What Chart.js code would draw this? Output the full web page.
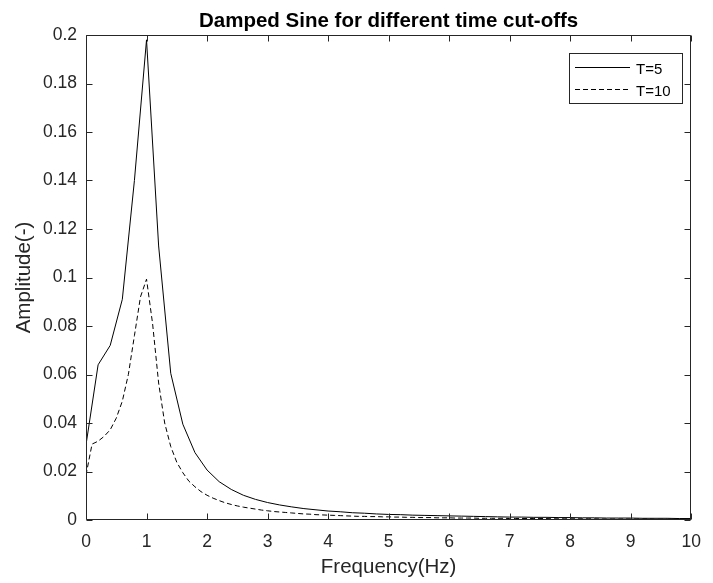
<!DOCTYPE html>
<html>
<head>
<meta charset="utf-8">
<title>Damped Sine for different time cut-offs</title>
<script src="https://cdn.jsdelivr.net/npm/chart.js@4.4.0/dist/chart.umd.min.js"></script>
<style>
  html, body { margin: 0; padding: 0; background: #fff; }
  #wrap { width: 713px; height: 583px; }
</style>
</head>
<body>
<div id="wrap"><canvas id="chart" width="713" height="583"></canvas></div>
<script>
// ── Data ─────────────────────────────────────────────────────

const freqT5 = [
  0, 0.2, 0.4, 0.6, 0.8, 1.0, 1.2, 1.4, 1.6, 1.8,
  2.0, 2.2, 2.4, 2.6, 2.8, 3.0, 3.2, 3.4, 3.6, 3.8,
  4.0, 4.2, 4.4, 4.6, 4.8, 5.0, 5.2, 5.4, 5.6, 5.8,
  6.0, 6.2, 6.4, 6.6, 6.8, 7.0, 7.2, 7.4, 7.6, 7.8,
  8.0, 8.2, 8.4, 8.6, 8.8, 9.0, 9.2, 9.4, 9.6, 9.8, 10.0,
];
const ampT5 = [
  0.031, 0.064, 0.072, 0.091, 0.140, 0.198, 0.113, 0.0605, 0.0395, 0.0278,
  0.0206, 0.0158, 0.0126, 0.0102, 0.0085, 0.0072, 0.0062, 0.0054, 0.0047, 0.0042,
  0.0037, 0.0034, 0.0030, 0.0028, 0.0025, 0.0023, 0.0022, 0.0020, 0.0019, 0.0018,
  0.0017, 0.0016, 0.0015, 0.0014, 0.0013, 0.0012, 0.0012, 0.0011, 0.0011, 0.0010,
  0.0010, 0.0009, 0.0009, 0.0008, 0.0008, 0.0008, 0.0007, 0.0007, 0.0007, 0.0006, 0.0006,
];

const freqT10 = [
  0, 0.1, 0.2, 0.3, 0.4, 0.5, 0.6, 0.7, 0.8, 0.9,
  1.0, 1.1, 1.2, 1.3, 1.4, 1.5, 1.6, 1.7, 1.8, 1.9,
  2.0, 2.1, 2.2, 2.3, 2.4, 2.5, 2.6, 2.7, 2.8, 2.9,
  3.0, 3.1, 3.2, 3.3, 3.4, 3.5, 3.6, 3.7, 3.8, 3.9,
  4.0, 4.1, 4.2, 4.3, 4.4, 4.5, 4.6, 4.7, 4.8, 4.9,
  5.0, 5.1, 5.2, 5.3, 5.4, 5.5, 5.6, 5.7, 5.8, 5.9,
  6.0, 6.1, 6.2, 6.3, 6.4, 6.5, 6.6, 6.7, 6.8, 6.9,
  7.0, 7.1, 7.2, 7.3, 7.4, 7.5, 7.6, 7.7, 7.8, 7.9,
  8.0, 8.1, 8.2, 8.3, 8.4, 8.5, 8.6, 8.7, 8.8, 8.9,
  9.0, 9.1, 9.2, 9.3, 9.4, 9.5, 9.6, 9.7, 9.8, 9.9, 10.0,
];
const ampT10 = [
  0.0185, 0.0313, 0.0325, 0.0345, 0.0372, 0.0420, 0.0490, 0.0600, 0.0760, 0.0920,
  0.0993, 0.0810, 0.0565, 0.0400, 0.0303, 0.0238, 0.0195, 0.0160, 0.0137, 0.0117,
  0.0102, 0.0090, 0.0080, 0.0071, 0.0064, 0.0058, 0.0053, 0.0049, 0.0045, 0.0041,
  0.0038, 0.0035, 0.0033, 0.0031, 0.0029, 0.0027, 0.0025, 0.0024, 0.0022, 0.0021,
  0.0020, 0.0019, 0.0018, 0.0017, 0.0016, 0.0015, 0.0015, 0.0014, 0.0014, 0.0013,
  0.0013, 0.0012, 0.0012, 0.0011, 0.0011, 0.0010, 0.0010, 0.0010, 0.0009, 0.0009,
  0.0009, 0.0008, 0.0008, 0.0008, 0.0008, 0.0007, 0.0007, 0.0007, 0.0007, 0.0007,
  0.0006, 0.0006, 0.0006, 0.0006, 0.0006, 0.0006, 0.0006, 0.0005, 0.0005, 0.0005,
  0.0005, 0.0005, 0.0005, 0.0005, 0.0005, 0.0004, 0.0004, 0.0004, 0.0004, 0.0004,
  0.0004, 0.0004, 0.0004, 0.0004, 0.0003, 0.0003, 0.0003, 0.0003, 0.0003, 0.0003, 0.0003,
];

const xTicks = [0, 1, 2, 3, 4, 5, 6, 7, 8, 9, 10];
const xTickLabels = ["0", "1", "2", "3", "4", "5", "6", "7", "8", "9", "10"];
const yTicks = [0, 0.02, 0.04, 0.06, 0.08, 0.1, 0.12, 0.14, 0.16, 0.18, 0.2];
const yTickLabels = ["0", "0.02", "0.04", "0.06", "0.08", "0.1", "0.12", "0.14", "0.16", "0.18", "0.2"];

// ── Style ────────────────────────────────────────────────────

const FONT = "'Liberation Sans', Arial, Helvetica, sans-serif";
const AXIS_COLOR = "#262626";

Chart.defaults.font.family = FONT;
Chart.defaults.color = AXIS_COLOR;

// MATLAB-like box with inward ticks on all four sides, plus the legend box
const boxAxes = {
  id: "boxAxes",
  afterDatasetsDraw(chart) {
    const { ctx, chartArea: a, scales: { x, y } } = chart;
    const L = Math.round(a.left) + 0.5;
    const R = Math.round(a.right) - 0.5;
    const T = Math.round(a.top) + 0.5;
    const B = Math.round(a.bottom) - 0.5;
    const len = 6;
    ctx.save();
    ctx.strokeStyle = AXIS_COLOR;
    ctx.lineWidth = 1;
    ctx.beginPath();
    ctx.rect(L, T, R - L, B - T);
    xTicks.forEach((v) => {
      const px = Math.round(x.getPixelForValue(v)) + 0.5;
      ctx.moveTo(px, B); ctx.lineTo(px, B - len);
      ctx.moveTo(px, T); ctx.lineTo(px, T + len);
    });
    yTicks.forEach((v) => {
      const py = Math.round(y.getPixelForValue(v)) + 0.5;
      ctx.moveTo(L, py); ctx.lineTo(L + len, py);
      ctx.moveTo(R, py); ctx.lineTo(R - len, py);
    });
    ctx.stroke();
    ctx.restore();
  },
  afterDraw(chart) {
    const { ctx, chartArea: a } = chart;
    const boxL = 569;
    const boxR = 682;
    const boxT = a.top + 18;
    const rowH = 22;
    const n = chart.data.datasets.length;
    const boxB = boxT + 14 + rowH * (n - 1) + 14;
    ctx.save();
    ctx.fillStyle = "#fff";
    ctx.fillRect(boxL, boxT, boxR - boxL, boxB - boxT);
    ctx.strokeStyle = AXIS_COLOR;
    ctx.lineWidth = 1;
    ctx.strokeRect(boxL + 0.5, Math.round(boxT) + 0.5, boxR - boxL, Math.round(boxB - boxT));
    ctx.font = "15px " + FONT;
    ctx.textBaseline = "middle";
    ctx.textAlign = "left";
    chart.data.datasets.forEach((ds, i) => {
      const cy = Math.round(boxT + 14 + i * rowH) + 0.5;
      ctx.strokeStyle = ds.borderColor;
      ctx.lineWidth = ds.borderWidth;
      ctx.setLineDash(ds.borderDash || []);
      ctx.beginPath();
      ctx.moveTo(boxL + 6, cy);
      ctx.lineTo(boxL + 61, cy);
      ctx.stroke();
      ctx.setLineDash([]);
      ctx.fillStyle = "#000";
      ctx.fillText(ds.label, boxL + 67, cy + 2);
    });
    ctx.restore();
  },
};

new Chart(document.getElementById("chart"), {
  type: "line",
  data: {
    datasets: [
      {
        label: "T=5",
        data: freqT5.map((f, i) => ({ x: f, y: ampT5[i] })),
        borderColor: "#000",
        borderWidth: 1,
        pointRadius: 0,
        fill: false,
        tension: 0,
      },
      {
        label: "T=10",
        data: freqT10.map((f, i) => ({ x: f, y: ampT10[i] })),
        borderColor: "#000",
        borderWidth: 1,
        borderDash: [5, 3],
        pointRadius: 0,
        fill: false,
        tension: 0,
      },
    ],
  },
  options: {
    responsive: false,
    animation: false,
    layout: { padding: { left: 0, right: 16, top: 0, bottom: 0 } },
    plugins: {
      legend: { display: false },
      tooltip: { enabled: false },
      title: {
        display: true,
        text: "Damped Sine for different time cut-offs",
        fullSize: false,
        color: "#000",
        font: { family: FONT, size: 20.5, weight: "bold", lineHeight: 1.2 },
        padding: { top: 9, bottom: 1.4 },
      },
    },
    scales: {
      x: {
        type: "linear",
        min: 0,
        max: 10,
        afterFit: (s) => { s.height = 63; },
        afterBuildTicks: (s) => { s.ticks = xTicks.map((v) => ({ value: v })); },
        ticks: {
          callback: (v, i) => xTickLabels[i],
          color: AXIS_COLOR,
          font: { size: 17.5 },
          padding: 12,
          maxRotation: 0,
          autoSkip: false,
        },
        grid: { display: false, drawTicks: false },
        border: { display: false },
        title: {
          display: true,
          text: "Frequency(Hz)",
          color: AXIS_COLOR,
          font: { size: 20.5 },
          padding: { top: 0, bottom: 3 },
        },
      },
      y: {
        type: "linear",
        min: 0,
        max: 0.2,
        afterFit: (s) => { s.width = 86; },
        afterBuildTicks: (s) => { s.ticks = yTicks.map((v) => ({ value: v })); },
        ticks: {
          callback: (v, i) => yTickLabels[i],
          color: AXIS_COLOR,
          font: { size: 17.5 },
          padding: 9,
          autoSkip: false,
        },
        grid: { display: false, drawTicks: false },
        border: { display: false },
        title: {
          display: true,
          text: "Amplitude(-)",
          color: AXIS_COLOR,
          font: { size: 20.5 },
          padding: { top: 12, bottom: 0 },
        },
      },
    },
  },
  plugins: [boxAxes],
});
</script>
</body>
</html>
